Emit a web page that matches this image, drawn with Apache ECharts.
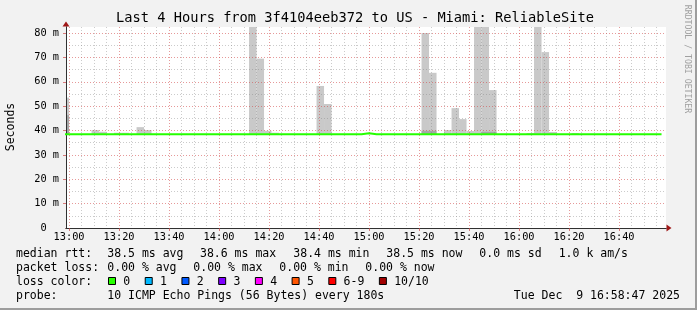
<!DOCTYPE html>
<html><head><meta charset="utf-8">
<script src="https://cdn.jsdelivr.net/npm/echarts@6/dist/echarts.min.js"></script>
<style>html,body{margin:0;padding:0;background:#f2f2f2}#c{width:697px;height:310px}</style>
</head><body><div id="c"></div>
<script>
// ---------------- DATA ----------------
const titleText = "Last 4 Hours from 3f4104eeb372 to US - Miami: ReliableSite";
const yAxisTitle = "Seconds";
const watermark = "RRDTOOL / TOBI OETIKER";
const rangeStart = "12:58:47";
const rangeEnd = "16:58:47";
const stepMinutes = 3;

const xTickLabels = ["13:00","13:20","13:40","14:00","14:20","14:40","15:00","15:20","15:40","16:00","16:20","16:40"];
const yTickValues = [0,10,20,30,40,50,60,70,80];
const yAxisMax = 82.5;

// 3-minute bins (bin start times) and the median RTT (ms) of each bin
const binTimes = ["12:57",
 "13:00","13:03","13:06","13:09","13:12","13:15","13:18","13:21","13:24","13:27",
 "13:30","13:33","13:36","13:39","13:42","13:45","13:48","13:51","13:54","13:57",
 "14:00","14:03","14:06","14:09","14:12","14:15","14:18","14:21","14:24","14:27",
 "14:30","14:33","14:36","14:39","14:42","14:45","14:48","14:51","14:54","14:57",
 "15:00","15:03","15:06","15:09","15:12","15:15","15:18","15:21","15:24","15:27",
 "15:30","15:33","15:36","15:39","15:42","15:45","15:48","15:51","15:54","15:57",
 "16:00","16:03","16:06","16:09","16:12","16:15","16:18","16:21","16:24","16:27",
 "16:30","16:33","16:36","16:39","16:42","16:45","16:48","16:51","16:54"];
const medianRtt = [38.5,
 38.5,38.5,38.5,38.5,38.5,38.5,38.5,38.5,38.5,38.5,
 38.5,38.5,38.5,38.5,38.5,38.5,38.5,38.5,38.5,38.5,
 38.5,38.5,38.5,38.5,38.5,38.5,38.5,38.5,38.5,38.5,
 38.5,38.5,38.5,38.5,38.5,38.5,38.5,38.5,38.5,38.9,
 38.5,38.5,38.5,38.5,38.5,38.5,38.5,38.5,38.5,38.5,
 38.5,38.5,38.5,38.5,38.5,38.5,38.5,38.5,38.5,38.5,
 38.5,38.5,38.5,38.5,38.5,38.5,38.5,38.5,38.5,38.5,
 38.5,38.5,38.5,38.5,38.5,38.5,38.5,38.5,38.5];

// smoke (spread of the pings) in bins where it is visible
const smokeTimes = ["12:57","13:09","13:12","13:18","13:21","13:27","13:30","14:12","14:15","14:18","14:21",
 "14:39","14:42","15:21","15:24","15:30","15:33","15:36","15:39","15:42","15:45","15:48","16:03","16:06","16:09","16:12","16:21"];
const smokeMax = [53.5,40.2,39.5,39.1,39.1,41.4,40.2,82.5,69.5,39.9,39.1,
 58.3,50.9,80.0,63.7,40.2,49.2,44.7,39.8,82.5,82.5,56.6,39.0,82.5,72.2,39.4,39.0];
const smokeDense = [46.3,null,null,null,null,null,null,null,null,null,null,
 null,null,39.9,39.9,null,null,null,null,null,39.5,39.5,null,null,null,null,null];

const rttLabel = "median rtt:";
const rttStats = ["38.5 ms avg","38.6 ms max","38.4 ms min","38.5 ms now","0.0 ms sd","1.0 k am/s"];
const lossLabel = "packet loss:";
const lossStats = ["0.00 % avg","0.00 % max","0.00 % min","0.00 % now"];
const colorLabel = "loss color:";
const lossLabels = ["0","1","2","3","4","5","6-9","10/10"];
const lossColors = ["#26ff00","#00b8ff","#0059ff","#7e00ff","#ff00ff","#ff5500","#ff0000","#a10000"];
const probeLabel = "probe:";
const probeText = "10 ICMP Echo Pings (56 Bytes) every 180s";
const stampText = "Tue Dec  9 16:58:47 2025";

// ---------------- HELPERS ----------------
function toMin(s){ const p = s.split(":").map(Number); return p[0]*60 + p[1] + (p[2]||0)/60; }
function pad(n){ return (n<10?"0":"") + n; }
const xMin = toMin(rangeStart), xMax = toMin(rangeEnd);
const majorX = xTickLabels.map(toMin);
const minorX = [];
for (let m = Math.ceil(xMin/5)*5; m <= xMax; m += 5) if (majorX.indexOf(m) < 0) minorX.push(m);
const majorY = yTickValues.filter(v => v > 0);
const minorY = [];
for (let v = 5; v < yAxisMax; v += 10) minorY.push(v);

const medianOf = {};
binTimes.forEach((t,i) => medianOf[t] = medianRtt[i]);
const smokeData = smokeTimes.map((t,i) => [toMin(t), medianOf[t], smokeDense[i] == null ? medianOf[t] : smokeDense[i], smokeMax[i]]);
const lineData = binTimes.map((t,i) => [toMin(t), medianRtt[i]]);
lineData.push([toMin(binTimes[binTimes.length-1]) + stepMinutes, medianRtt[medianRtt.length-1]]);

const MONO = '"DejaVu Sans Mono", monospace';
const majorColor = 'rgba(210,70,70,0.55)';
const minorColor = 'rgba(130,130,130,0.42)';

// ---------------- LEGEND GRAPHICS ----------------
const FS = 11.5, CW = 6.92;
const rowY = [254, 268, 282, 296];
const colX = 16, valX = 107.3;
const rttX = [107.3,200,293.3,386.3,479.3,558.7];
const lossX = [107.3,193.3,279.3,365.3];
const graphics = [];
function txt(s, x, y, align){ graphics.push({type:'text', x:x, y:y, silent:true,
  style:{text:s, fill:'#000', font: FS+'px '+MONO, verticalAlign:'middle', align: align || 'left'}}); }
txt(rttLabel, colX, rowY[0]);
rttStats.forEach((s,i) => txt(s, rttX[i], rowY[0]));
txt(lossLabel, colX, rowY[1]);
lossStats.forEach((s,i) => txt(s, lossX[i], rowY[1]));
txt(colorLabel, colX, rowY[2]);
let bx = 108.5;
lossLabels.forEach((s,i) => {
  graphics.push({type:'rect', shape:{x:bx, y:rowY[2]-4.5, width:7, height:7}, style:{fill:lossColors[i], stroke:'#000', lineWidth:1}, silent:true});
  txt(s, bx + 14.8, rowY[2]);
  bx += 29.8 + s.length*CW;
});
txt(probeLabel, colX, rowY[3]);
txt(probeText, valX, rowY[3]);
txt(stampText, 680, rowY[3], 'right');
graphics.push({type:'text', x:11, y:127, rotation:Math.PI/2, silent:true,
  style:{text:yAxisTitle, fill:'#000', font: FS+'px '+MONO, align:'center', verticalAlign:'middle'}});
graphics.push({type:'text', x:687, y:59, rotation:-Math.PI/2, silent:true,
  style:{text:watermark, fill:'#a0a0a0', font: '8.2px '+MONO, align:'center', verticalAlign:'middle'}});
graphics.push({type:'rect', shape:{x:695, y:0, width:2, height:310}, style:{fill:'#9d9d9d'}, silent:true});
graphics.push({type:'rect', shape:{x:0, y:308, width:697, height:2}, style:{fill:'#9d9d9d'}, silent:true});

// ---------------- CHART ----------------
const chart = echarts.init(document.getElementById('c'), null, {renderer:'canvas'});
chart.setOption({
  animation: false,
  backgroundColor: '#f2f2f2',
  title: { text: titleText, left: 116, top: 11, padding: 0,
    textStyle: { fontFamily: MONO, fontSize: 13.7, fontWeight: 'normal', color: '#000' } },
  grid: { left: 66, top: 27, width: 600, height: 201, show: true, backgroundColor: '#fff', borderWidth: 0, containLabel: false },
  graphic: graphics,
  xAxis: [
    { type:'value', min:xMin, max:xMax, position:'bottom', z:3,
      axisLine:{ onZero:false, lineStyle:{ color:'#303030', width:1 } },
      axisTick:{ show:true, customValues: majorX, length:3, lineStyle:{ color:'rgba(205,70,70,0.7)' } },
      axisLabel:{ customValues: majorX, margin:4, color:'#000', fontFamily:MONO, fontSize:10.3,
        formatter: v => { const m = Math.round(v); return pad(Math.floor(m/60)) + ":" + pad(m%60); } },
      splitLine:{ show:true, lineStyle:{ color:majorColor, width:1, type:[1,2] } } },
    { type:'value', min:xMin, max:xMax, position:'bottom', z:2,
      axisLine:{ onZero:false, symbol:['none','triangle'], symbolSize:[7,5], symbolOffset:[0,3],
        lineStyle:{ color:'#a01818', width:1 } },
      axisTick:{ show:false, customValues: minorX }, axisLabel:{ show:false },
      splitLine:{ show:true, lineStyle:{ color:minorColor, width:1, type:[1,2] } } }
  ],
  yAxis: [
    { type:'value', min:0, max:yAxisMax, position:'left', z:3,
      axisLine:{ onZero:false, lineStyle:{ color:'#303030', width:1 } },
      axisTick:{ show:true, customValues: majorY, length:3, lineStyle:{ color:'rgba(205,70,70,0.7)' } },
      axisLabel:{ customValues: yTickValues, margin:7, color:'#000', fontFamily:MONO, fontSize:10.3,
        formatter: v => v === 0 ? "0  " : v + " m" },
      splitLine:{ show:true, lineStyle:{ color:majorColor, width:1, type:[1,2] } } },
    { type:'value', min:0, max:yAxisMax, position:'left', z:2,
      axisLine:{ onZero:false, symbol:['none','triangle'], symbolSize:[7,5], symbolOffset:[0,3],
        lineStyle:{ color:'#a01818', width:1 } },
      axisTick:{ show:false, customValues: minorY }, axisLabel:{ show:false },
      splitLine:{ show:true, lineStyle:{ color:minorColor, width:1, type:[1,2] } } }
  ],
  series: [
    { type:'custom', name:'smoke', xAxisIndex:0, yAxisIndex:0, z:1, silent:true,
      data: smokeData,
      renderItem: function (params, api) {
        const cs = params.coordSys;
        const t = api.value(0), base = api.value(1), dense = api.value(2), top = api.value(3);
        const a = api.coord([t, base]), b = api.coord([t + stepMinutes, top]), c = api.coord([t + stepMinutes, dense]);
        const x0 = Math.max(a[0], cs.x), x1 = Math.min(b[0], cs.x + cs.width);
        const yTop = Math.max(b[1], cs.y);
        const kids = [{ type:'rect', shape:{ x:x0, y:yTop, width:x1-x0, height:a[1]-yTop }, style:{ fill:'#c9c9c9' } }];
        if (dense > base) kids.push({ type:'rect', shape:{ x:x0, y:c[1], width:x1-x0, height:a[1]-c[1] }, style:{ fill:'#a6a6a6' } });
        return { type:'group', children: kids };
      } },
    { type:'line', name:'median rtt', xAxisIndex:0, yAxisIndex:0, z:4, silent:true,
      data: lineData, step:'end', showSymbol:false, symbol:'none',
      lineStyle:{ color:'#26ff00', width:2 } }
  ]
});
</script>
</body></html>
